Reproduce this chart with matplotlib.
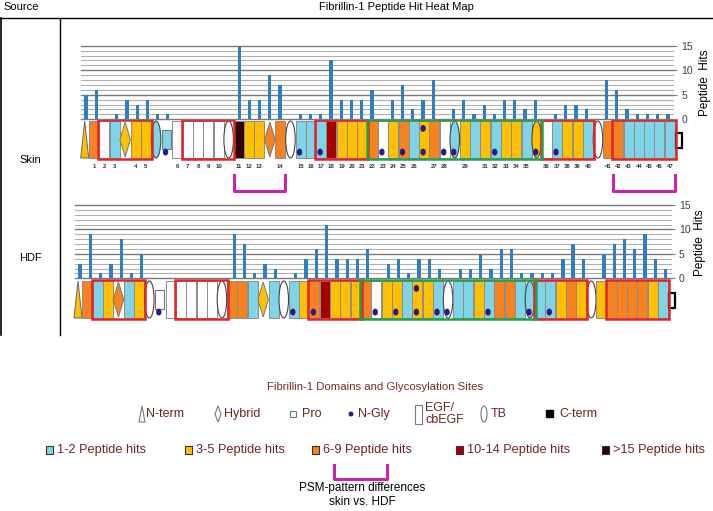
import numpy as np
import matplotlib.pyplot as plt
from matplotlib.patches import Rectangle, Ellipse, Polygon

plt.rcParams['font.family'] = ['Liberation Sans', 'DejaVu Sans']

# peptide hits per position (58 slots on the x axis)
positions = np.arange(58)
skin_hits = [5, 6, 0, 1, 4, 3, 4, 1, 1, 0, 0, 0, 0, 0, 0, 15, 4, 4, 9, 7,
             0, 1, 1, 1, 12, 4, 4, 4, 6, 0, 4, 7, 2, 4, 8, 0, 2, 4, 1, 3,
             1, 4, 4, 2, 4, 0, 1, 3, 3, 2, 0, 8, 6, 2, 1, 1, 1, 1]
hdf_hits = [3, 9, 1, 3, 8, 1, 5, 0, 0, 0, 0, 0, 0, 0, 0, 9, 7, 1, 3, 2,
            0, 1, 4, 6, 11, 4, 4, 4, 6, 0, 3, 4, 1, 4, 4, 2, 0, 2, 2, 5,
            2, 6, 6, 1, 1, 1, 1, 4, 7, 4, 0, 5, 7, 8, 6, 9, 4, 2]

# domain schematic: N-term, EGF, Hybrid, TB, Pro, C-term
domain_kinds = ("NEEEHEETP" "EEEEET" "EEEHET" "EEEEEEE" "EEEEEEEET"
                "EEEEEEET" "EEEEET" "EEEEEEEC")
skin_colors = ("YOWCYYYCC" "WWWWWW" "BYYOOW" "CCCRYYY" "OWYOCYOWC"
               "YCYCYYCY" "WCYYCW" "OOCCCCCW")
hdf_colors = ("YOCYOCYWW" "WWWWWW" "OOCYCW" "CYORYYY" "OWYYCYYCW"
              "CCYCOOCC" "CCYOYW" "YOOOOYCW")
glyco_sites = [9, 22, 24, 30, 32, 34, 36, 37, 41, 45, 47]
double_glyco = [34]
red_groups = [(3, 7), (11, 15), (24, 28), (46, 50), (53, 58)]
green_groups = [(29, 45)]
number_labels = [str(i) for i in range(1, 30)] + [str(i) for i in range(31, 48)]
number_domains = [2, 3, 4, 6, 7, 10, 11, 12, 13, 14, 16, 17, 18, 20,
                  22, 23, 24, 25, 26, 27, 28, 29, 30, 31, 32, 33, 35, 36, 38,
                  40, 41, 42, 43, 44, 46, 47, 48, 49, 50,
                  52, 53, 54, 55, 56, 57, 58]
bracket_groups = [(16, 20), (53, 58)]

legend_shapes = ['N-term', 'Hybrid', 'Pro', 'N-Gly', 'EGF/\ncbEGF', 'TB', 'C-term']
hit_classes = ['1-2 Peptide hits', '3-5 Peptide hits', '6-9 Peptide hits',
               '10-14 Peptide hits', '>15 Peptide hits']

palette = {'Y': '#FFC000', 'O': '#F7821F', 'C': '#7FD4E8', 'W': 'white',
           'R': '#A50000', 'B': '#2A0505'}
widths = {'N': 8, 'E': 10, 'H': 10.5, 'T': 9.5, 'P': 11, 'C': 8}
bar_blue = '#2E7EC1'
maroon = '#6E2424'
magenta = '#C824B4'

fig = plt.figure(figsize=(7.13, 5.11), dpi=100)
ov = fig.add_axes([0, 0, 1, 1])
ov.set_xlim(0, 713)
ov.set_ylim(511, 0)
ov.axis('off')

# header
ov.plot([0, 713], [18, 18], color='black', lw=1)
ov.plot([60, 60], [18, 335], color='black', lw=1)
ov.plot([1, 1], [18, 335], color='black', lw=1.2)
ov.text(21, 7, 'Source', fontsize=8, ha='center', va='center')
ov.text(396, 7, 'Fibrillin-1 Peptide Hit Heat Map', fontsize=8, ha='center', va='center')
ov.text(30, 160, 'Skin', fontsize=8, ha='center', va='center')
ov.text(30, 258, 'HDF', fontsize=8, ha='center', va='center')


def layout(x0):
    xs = []
    x = x0
    for k in domain_kinds:
        xs.append(x)
        x += widths[k] + 0.3
    return xs


def draw_row(x0, top, colors, numbers=False):
    h = 37
    xs = layout(x0)
    for i, (k, c) in enumerate(zip(domain_kinds, colors)):
        x, w, fc = xs[i], widths[k], palette[c]
        if k == 'E':
            ov.add_patch(Rectangle((x, top), w, h, fc=fc, ec='#8c8c8c', lw=0.7))
        elif k == 'T':
            ov.add_patch(Ellipse((x + w / 2, top + h / 2), w, h, fc=fc, ec='#444444', lw=0.8))
        elif k == 'H':
            ov.add_patch(Polygon([(x, top + h / 2), (x + w / 2, top + 1), (x + w, top + h / 2),
                                  (x + w / 2, top + h - 1)], fc=fc, ec='#777777', lw=0.7))
        elif k == 'N':
            ov.add_patch(Polygon([(x, top + h), (x + w / 2, top), (x + w, top + h)],
                                 fc=fc, ec='#666666', lw=0.7))
        elif k == 'P':
            ov.add_patch(Rectangle((x + 1, top + 0.25 * h), w - 2, 0.5 * h, fc=fc, ec='#777777', lw=0.8))
        elif k == 'C':
            ov.add_patch(Rectangle((x + 1, top + 0.33 * h), w - 2, 0.4 * h, fc='white', ec='black', lw=1.6))
    for d in glyco_sites:
        x, w = xs[d - 1], widths[domain_kinds[d - 1]]
        ov.add_patch(Ellipse((x + w * 0.4, top + h * 0.84), 4, 5.5, color='#2C1A84', zorder=4))
        if d in double_glyco:
            ov.add_patch(Ellipse((x + w * 0.4, top + h * 0.2), 4, 5.5, color='#2C1A84', zorder=4))
    for groups, col in [(red_groups, '#E3242B'), (green_groups, '#22A04B')]:
        for a, b in groups:
            x1 = xs[a - 1] - 1
            x2 = xs[b - 1] + widths[domain_kinds[b - 1]] + 1
            ov.add_patch(Rectangle((x1, top - 1), x2 - x1, h + 2, fill=False, ec=col, lw=1.8, zorder=5))
    if numbers:
        for lab, d in zip(number_labels, number_domains):
            x = xs[d - 1] + widths[domain_kinds[d - 1]] / 2
            ov.text(x, top + h + 8, lab, fontsize=4.3, ha='center', va='center',
                    color='#303040', fontweight='bold')
        for a, b in bracket_groups:
            x1 = xs[a - 1]
            x2 = xs[b - 1] + widths[domain_kinds[b - 1]]
            ov.plot([x1, x1, x2, x2], [top + h + 17, top + h + 33, top + h + 33, top + h + 17],
                    color=magenta, lw=2.2)


draw_row(80.7, 121, skin_colors, numbers=True)
draw_row(74, 281, hdf_colors)


def bar_panel(rect, hits):
    ax = fig.add_axes(rect, facecolor='none')
    for v in range(0, 16):
        major = v % 5 == 0
        ax.axhline(v, color='#7a7a7a' if major else '#b0b0b0', lw=1.0 if major else 0.8,
                   zorder=1, clip_on=False)
    ax.bar(positions, hits, width=0.32, color=bar_blue, zorder=3)
    ax.set_xlim(-0.5, 57.5)
    ax.set_ylim(0, 15)
    ax.set_xticks([])
    ax.yaxis.tick_right()
    ax.set_yticks([0, 5, 10, 15])
    ax.tick_params(axis='y', length=3, color='#808080', labelsize=7.5,
                   labelcolor='#404040', pad=3)
    for s in ax.spines.values():
        s.set_visible(False)
    return ax


bar_panel([81 / 713, 1 - 119.3 / 511, 592 / 713, 73.6 / 511], skin_hits)
bar_panel([75 / 713, 1 - 278.3 / 511, 595.7 / 713, 73.3 / 511], hdf_hits)
ov.text(705, 83, 'Peptide  Hits', fontsize=8.5, rotation=90, ha='center', va='center')
ov.text(700, 243, 'Peptide  Hits', fontsize=8.5, rotation=90, ha='center', va='center')

# legend: domains
ov.text(375, 387, 'Fibrillin-1 Domains and Glycosylation Sites', fontsize=8.2,
        ha='center', va='center', color='#7A2A2A')
ly = 414
ov.add_patch(Polygon([(139, 422), (142, 406), (145, 422)], fill=False, ec='#777777', lw=0.8))
ov.add_patch(Polygon([(215, 414), (218, 406), (221, 414), (218, 422)], fill=False, ec='#777777', lw=0.8))
ov.add_patch(Rectangle((290, 411), 6, 6, fill=False, ec='#777777', lw=0.8))
ov.add_patch(Ellipse((351, 414), 3.5, 3.5, color='#2C1A84'))
ov.add_patch(Rectangle((415, 405), 7, 19, fill=False, ec='#777777', lw=0.8))
ov.add_patch(Ellipse((484, 414), 6, 16, fill=False, ec='#777777', lw=0.8))
ov.add_patch(Rectangle((546, 410), 7, 7, color='black'))
shape_x = [146, 224, 302, 358, 425, 491, 559]
for lab, x in zip(legend_shapes, shape_x):
    ov.text(x, ly, lab, fontsize=9, ha='left', va='center', color=maroon, linespacing=1.0)

# legend: hit classes
hit_colors = ['C', 'Y', 'O', 'R', 'B']
icon_x = [46, 185, 312, 456, 602]
for lab, c, x in zip(hit_classes, hit_colors, icon_x):
    ov.add_patch(Rectangle((x, 446), 7, 8, fc=palette[c], ec='#333333', lw=0.8))
    ov.text(x + 11, 450, lab, fontsize=9.2, ha='left', va='center', color=maroon)

ov.plot([334, 334, 387, 387], [465, 479, 479, 465], color=magenta, lw=2.2)
ov.text(362, 488, 'PSM-pattern differences', fontsize=8.5, ha='center', va='center')
ov.text(362, 502, 'skin vs. HDF', fontsize=8.5, ha='center', va='center')

fig.savefig('out.png', dpi=100)
